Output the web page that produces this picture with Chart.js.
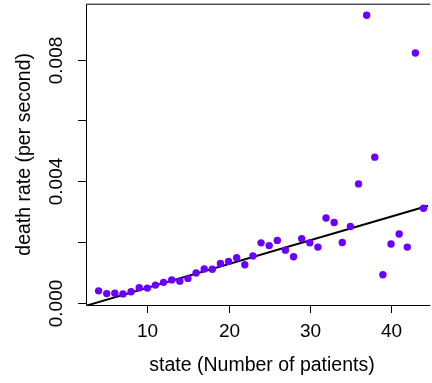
<!DOCTYPE html>
<html>
<head>
<meta charset="utf-8">
<script src="https://cdn.jsdelivr.net/npm/chart.js@4/dist/chart.umd.min.js"></script>
<style>
  html, body { margin: 0; padding: 0; background: #ffffff; }
  #wrap { width: 432px; height: 383px; }
</style>
</head>
<body>
<div id="wrap"><canvas id="c" width="432" height="383"></canvas></div>
<script>
// Number of patients in the ward (state)
const states = [4, 5, 6, 7, 8, 9, 10, 11, 12, 13, 14, 15, 16, 17, 18, 19, 20, 21, 22, 23,
                24, 25, 26, 27, 28, 29, 30, 31, 32, 33, 34, 35, 36, 37, 38, 39, 40, 41, 42, 43, 44];
// Observed death rate per second in each state
const deathRates = [0.00039, 0.00030, 0.00031, 0.00029, 0.00036, 0.00049, 0.00048, 0.00058, 0.00067, 0.00075,
                    0.00071, 0.00080, 0.00098, 0.00111, 0.00110, 0.00129, 0.00136, 0.00148, 0.00125, 0.00154,
                    0.00197, 0.00188, 0.00205, 0.00173, 0.00151, 0.00211, 0.00197, 0.00183, 0.00279, 0.00264,
                    0.00198, 0.00251, 0.00391, 0.00946, 0.00479, 0.00092, 0.00193, 0.00226, 0.00183, 0.00822, 0.00311];
// Fitted straight line: rate = intercept + slope * state
const fitIntercept = -0.00029;
const fitSlope = 0.000078;
// Axis ticks
const xTicks = [10, 20, 30, 40];
const yTicks = [0, 0.002, 0.004, 0.006, 0.008];
const yTickLabels = ['0.000', '', '0.004', '', '0.008'];

const X_MIN = 2.45, X_MAX = 44.59;
const Y_MIN = -0.0000755, Y_MAX = 0.00984;

const pointData = states.map((s, i) => ({ x: s, y: deathRates[i] }));
const fitData = [X_MIN, X_MAX].map(x => ({ x: x, y: fitIntercept + fitSlope * x }));

const TICK_FONT = '19px "Liberation Sans", Arial, sans-serif';
const TITLE_FONT = '19.5px "Liberation Sans", Arial, sans-serif';

const frameAndAxes = {
  id: 'frameAndAxes',
  afterDraw(chart) {
    const ctx = chart.ctx;
    const a = chart.chartArea;
    const xs = chart.scales.x, ys = chart.scales.y;
    ctx.save();
    ctx.strokeStyle = '#000';
    ctx.lineWidth = 1;
    // plot box (right side runs off the canvas)
    ctx.beginPath();
    ctx.moveTo(a.right + 2, a.top + 0.5);
    ctx.lineTo(a.left + 0.5, a.top + 0.5);
    ctx.lineTo(a.left + 0.5, a.bottom + 0.5);
    ctx.lineTo(a.right + 2, a.bottom + 0.5);
    ctx.stroke();

    ctx.fillStyle = '#000';
    ctx.font = TICK_FONT;
    // x ticks and labels
    ctx.textAlign = 'center';
    ctx.textBaseline = 'middle';
    xTicks.forEach(v => {
      const px = Math.round(xs.getPixelForValue(v)) + 0.5;
      ctx.beginPath();
      ctx.moveTo(px, a.bottom);
      ctx.lineTo(px, a.bottom + 8);
      ctx.stroke();
      ctx.fillText(String(v), px, 332);
    });
    // y ticks and rotated labels
    yTicks.forEach((v, i) => {
      const py = Math.round(ys.getPixelForValue(v)) + 0.5;
      ctx.beginPath();
      ctx.moveTo(a.left, py);
      ctx.lineTo(a.left - 8, py);
      ctx.stroke();
      if (yTickLabels[i]) {
        ctx.save();
        ctx.translate(57, py);
        ctx.rotate(-Math.PI / 2);
        ctx.fillText(yTickLabels[i], 0, 0);
        ctx.restore();
      }
    });
    // axis titles
    ctx.font = TITLE_FONT;
    ctx.fillText('state (Number of patients)', 262, 366);
    ctx.save();
    ctx.translate(25, (a.top + a.bottom) / 2);
    ctx.rotate(-Math.PI / 2);
    ctx.fillText('death rate (per second)', 0, 0);
    ctx.restore();
    ctx.restore();
  }
};

new Chart(document.getElementById('c'), {
  type: 'scatter',
  data: {
    datasets: [
      {
        label: 'death rate',
        data: pointData,
        backgroundColor: '#6a00ff',
        borderColor: '#6a00ff',
        borderWidth: 0,
        pointRadius: 3.7,
        pointHoverRadius: 3.7
      },
      {
        label: 'fit',
        type: 'line',
        data: fitData,
        borderColor: '#000',
        borderWidth: 2,
        pointRadius: 0,
        fill: false
      }
    ]
  },
  options: {
    responsive: false,
    animation: false,
    layout: { padding: { left: 86, top: 3, right: 0, bottom: 78 } },
    plugins: { legend: { display: false }, tooltip: { enabled: false } },
    scales: {
      x: { type: 'linear', min: X_MIN, max: X_MAX, display: false },
      y: { type: 'linear', min: Y_MIN, max: Y_MAX, display: false }
    }
  },
  plugins: [frameAndAxes]
});
</script>
</body>
</html>
